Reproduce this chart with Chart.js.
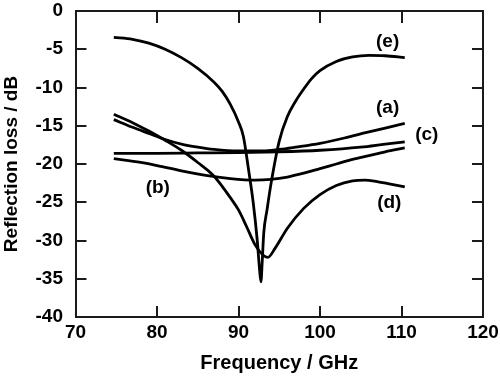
<!DOCTYPE html>
<html><head><meta charset="utf-8">
<script src="https://cdn.jsdelivr.net/npm/chart.js@4/dist/chart.umd.min.js"></script>
<style>html,body{margin:0;padding:0;background:#fff}#w{width:500px;height:379px}</style>
</head><body><div id="w"><canvas id="c" width="500" height="379"></canvas></div>
<script>
const xTicks = [70, 80, 90, 100, 110, 120];
const yTicks = [0, -5, -10, -15, -20, -25, -30, -35, -40];

const aX = [74.7, 77, 79, 81, 83, 85, 87, 90, 93, 95, 97, 100, 103, 106, 108, 110.4];
const aY = [-14.2, -15.2, -16.0, -16.8, -17.4, -17.8, -18.1, -18.3, -18.3, -18.1, -17.8, -17.3, -16.6, -15.8, -15.3, -14.7];

const bX = [74.7, 78, 80, 83, 86, 89, 92, 94, 96, 98, 100, 102, 104, 106, 108, 110.4];
const bY = [-19.3, -19.8, -20.2, -20.9, -21.5, -21.9, -22.1, -22.0, -21.7, -21.2, -20.6, -20.0, -19.4, -18.9, -18.4, -17.9];

const cX = [74.7, 80, 85, 90, 95, 100, 105, 108, 110.4];
const cY = [-18.6, -18.6, -18.55, -18.5, -18.4, -18.2, -17.8, -17.4, -17.1];

const dX = [74.7, 77, 79, 81, 83, 85, 87, 89, 90, 91, 92, 93, 93.6, 94.5, 96, 98, 100, 102, 104, 105.5, 107, 108.5, 110.4];
const dY = [-13.5, -14.6, -15.7, -16.9, -18.2, -19.8, -21.6, -24.4, -26.0, -28.2, -30.5, -31.9, -32.2, -31.0, -28.4, -25.8, -24.0, -22.8, -22.2, -22.1, -22.3, -22.6, -23.0];

const eX = [74.7, 77, 79, 81, 83, 85, 87, 88, 89, 90, 90.6, 91.2, 91.8, 92.3, 92.6, 92.75, 92.9, 93.1, 93.5, 94, 95, 96, 97, 98, 99, 100, 102, 104, 106, 108, 110.4];
const eY = [-3.45, -3.7, -4.2, -5.0, -6.1, -7.5, -9.3, -10.5, -12.2, -14.5, -16.4, -20.5, -25, -30, -34, -35.4, -33, -29, -26, -22.5, -17, -13.8, -11.8, -10.2, -8.8, -7.8, -6.6, -6.0, -5.8, -5.85, -6.1];

const labelText = ['(a)', '(b)', '(c)', '(d)', '(e)'];
const labelX = [108.3, 80.1, 113.1, 108.5, 108.3];
const labelY = [-12.7, -23.1, -16.2, -25.1, -4.0];

function pts(xs, ys) { return xs.map((x, i) => ({x: x, y: ys[i]})); }
function ds(xs, ys) {
  return { data: pts(xs, ys), borderColor: '#000', borderWidth: 2.8, pointRadius: 0,
           fill: false, cubicInterpolationMode: 'monotone', xAxisID: 'x', yAxisID: 'y' };
}

const FONT = 'Liberation Sans, Arial, Helvetica, sans-serif';
const AX = '#1a1a1a';
const gridIn = (len) => ({ display: true, drawOnChartArea: false, drawTicks: true, tickLength: -len,
                           color: AX, lineWidth: 2 });
const bord = { display: true, color: AX, width: 2 };
function noPad(s) { s.paddingTop = 0; s.paddingBottom = 0; s.paddingLeft = 0; s.paddingRight = 0; }

const labelPlugin = {
  id: 'curveLabels',
  afterDraw(chart) {
    const ctx = chart.ctx, xs = chart.scales.x, ys = chart.scales.y;
    ctx.save();
    ctx.fillStyle = '#000';
    ctx.font = 'bold 19px ' + FONT;
    ctx.textAlign = 'center';
    ctx.textBaseline = 'middle';
    labelText.forEach((t, i) => {
      ctx.fillText(t, xs.getPixelForValue(labelX[i]), ys.getPixelForValue(labelY[i]));
    });
    ctx.restore();
  }
};

new Chart(document.getElementById('c'), {
  type: 'line',
  data: { datasets: [ds(aX, aY), ds(bX, bY), ds(cX, cY), ds(dX, dY), ds(eX, eY)] },
  options: {
    responsive: false,
    animation: false,
    layout: { padding: { top: 11, right: 17, left: 0, bottom: 0 } },
    plugins: { legend: { display: false }, tooltip: { enabled: false } },
    scales: {
      x: {
        type: 'linear', position: 'bottom', min: 70, max: 120,
        afterBuildTicks: s => { s.ticks = xTicks.map(v => ({value: v})); },
        afterFit: s => { s.height = 62; noPad(s); },
        grid: gridIn(11),
        border: bord,
        ticks: { color: '#000', padding: 15, font: { family: FONT, size: 19, weight: 'bold' } },
        title: { display: true, text: 'Frequency / GHz', color: '#000', padding: { top: 0, bottom: 4 },
                 font: { family: FONT, size: 20, weight: 'bold' } }
      },
      x2: {
        type: 'linear', position: 'top', min: 70, max: 120,
        afterBuildTicks: s => { s.ticks = xTicks.map(v => ({value: v})); },
        afterFit: s => { s.height = 0; noPad(s); },
        grid: gridIn(12),
        border: bord,
        ticks: { display: false }
      },
      y: {
        type: 'linear', position: 'left', min: -40, max: 0,
        afterBuildTicks: s => { s.ticks = yTicks.map(v => ({value: v})); },
        afterFit: s => { s.width = 75.5; noPad(s); },
        grid: gridIn(11),
        border: bord,
        ticks: { color: '#000', padding: 23.5, font: { family: FONT, size: 19, weight: 'bold' } },
        title: { display: true, text: 'Reflection loss / dB', color: '#000', padding: { top: 0, bottom: 0 },
                 font: { family: FONT, size: 19, weight: 'bold' } }
      },
      y2: {
        type: 'linear', position: 'right', min: -40, max: 0,
        afterBuildTicks: s => { s.ticks = yTicks.map(v => ({value: v})); },
        afterFit: s => { s.width = 0; noPad(s); },
        grid: gridIn(11),
        border: bord,
        ticks: { display: false }
      }
    }
  },
  plugins: [labelPlugin]
});
</script>
</body></html>
